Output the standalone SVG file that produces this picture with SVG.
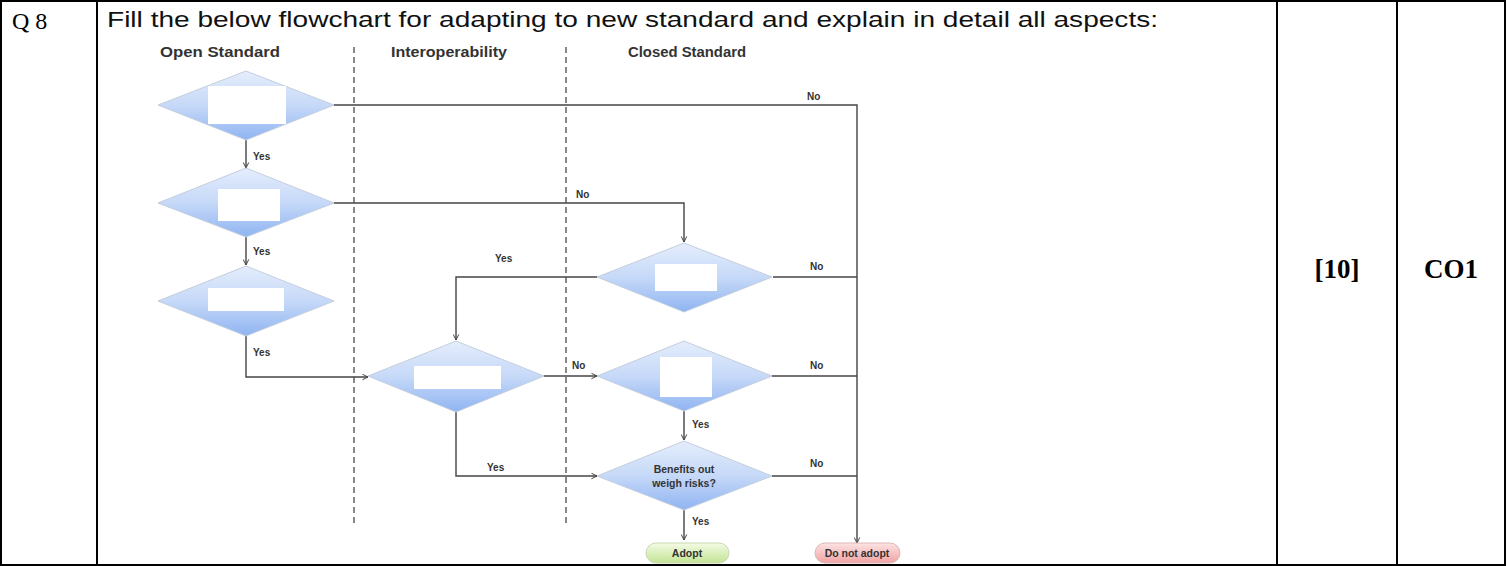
<svg xmlns="http://www.w3.org/2000/svg" width="1507" height="566" viewBox="0 0 1507 566">
<style>
.tbl{stroke:#000;stroke-width:2;fill:none}
.hd{font-family:"Liberation Sans",Arial,sans-serif;font-weight:bold;font-size:14px;fill:#333}
.lbl{font-family:"Liberation Sans",Arial,sans-serif;font-weight:bold;font-size:10px;fill:#333}
.dia{fill:url(#gd);stroke:#c3cedd;stroke-width:1}
.blank{fill:#fff}
.ln{stroke:#444;stroke-width:1.4;fill:none}
.ar{stroke:#444;stroke-width:1.4;fill:none;marker-end:url(#ah)}
.dash{stroke:#555;stroke-width:1.4;stroke-dasharray:6,4;fill:none}
.pt{font-family:"Liberation Sans",Arial,sans-serif;font-weight:bold;font-size:10.5px;fill:#333;text-anchor:middle}
.cell{font-family:"Liberation Serif","Times New Roman",serif;font-weight:bold;font-size:27px;fill:#000;text-anchor:middle}
</style>
<defs>
<linearGradient id="gd" x1="0" y1="0" x2="0" y2="1">
<stop offset="0" stop-color="#e4edfc"/>
<stop offset="0.5" stop-color="#c6d9f8"/>
<stop offset="1" stop-color="#8fb4f2"/>
</linearGradient>
<linearGradient id="gg" x1="0" y1="0" x2="0" y2="1">
<stop offset="0" stop-color="#f4fbe4"/>
<stop offset="1" stop-color="#c3e494"/>
</linearGradient>
<linearGradient id="gr" x1="0" y1="0" x2="0" y2="1">
<stop offset="0" stop-color="#fde3e3"/>
<stop offset="1" stop-color="#f0a3a3"/>
</linearGradient>
<marker id="ah" viewBox="0 0 10 10" refX="9" refY="5" markerWidth="7" markerHeight="7" orient="auto" markerUnits="userSpaceOnUse">
<path d="M1,1 L9,5 L1,9" fill="none" stroke="#444" stroke-width="1.4"/>
</marker>
</defs>

<g id="table">
<rect class="tbl" x="1" y="1" width="1504" height="564"/>
<line class="tbl" x1="97" y1="1" x2="97" y2="565"/>
<line class="tbl" x1="1277" y1="1" x2="1277" y2="565"/>
<line class="tbl" x1="1397" y1="1" x2="1397" y2="565"/>
<text x="12" y="29" font-family="'Liberation Serif','Times New Roman',serif" font-size="24" fill="#000">Q 8</text>
<text x="107" y="27" font-family="'Liberation Sans',Arial,sans-serif" font-size="22" fill="#111" textLength="1051" lengthAdjust="spacingAndGlyphs">Fill the below flowchart for adapting to new standard and explain in detail all aspects:</text>
<text class="cell" x="1337" y="278">[10]</text>
<text class="cell" x="1451" y="278">CO1</text>
</g>

<g id="lanes">
<text class="hd" x="160" y="57" textLength="120" lengthAdjust="spacingAndGlyphs">Open Standard</text>
<text class="hd" x="391" y="57" textLength="116" lengthAdjust="spacingAndGlyphs">Interoperability</text>
<text class="hd" x="628" y="57" textLength="118" lengthAdjust="spacingAndGlyphs">Closed Standard</text>
<line class="dash" x1="354" y1="47" x2="354" y2="526"/>
<line class="dash" x1="566" y1="47" x2="566" y2="526"/>
</g>

<g id="connectors">
<path class="ar" d="M334,105 H857 V543"/>
<path class="ar" d="M246,140 V168"/>
<path class="ar" d="M246,237 V265"/>
<path class="ar" d="M334,203 H684 V242"/>
<path class="ar" d="M597,277 H456 V340"/>
<path class="ln" d="M773,277 H857"/>
<path class="ar" d="M246,336 V377 H368"/>
<path class="ar" d="M544,376 H597"/>
<path class="ln" d="M772,376 H857"/>
<path class="ar" d="M684,411 V440"/>
<path class="ar" d="M456,412 V476 H597"/>
<path class="ln" d="M772,476 H857"/>
<path class="ar" d="M684,510 V540"/>
<text class="lbl" x="807" y="100">No</text>
<text class="lbl" x="253" y="160">Yes</text>
<text class="lbl" x="576" y="198">No</text>
<text class="lbl" x="253" y="255">Yes</text>
<text class="lbl" x="495" y="262">Yes</text>
<text class="lbl" x="810" y="270">No</text>
<text class="lbl" x="253" y="356">Yes</text>
<text class="lbl" x="572" y="369">No</text>
<text class="lbl" x="810" y="369">No</text>
<text class="lbl" x="692" y="428">Yes</text>
<text class="lbl" x="487" y="471">Yes</text>
<text class="lbl" x="810" y="467">No</text>
<text class="lbl" x="692" y="525">Yes</text>
</g>

<g id="d1">
<polygon class="dia" points="246,71 334,105 246,140 158,105"/>
<rect class="blank" x="208" y="86" width="78" height="38"/>
</g>
<g id="d2">
<polygon class="dia" points="246,168 334,203 246,237 158,203"/>
<rect class="blank" x="218" y="189" width="62" height="32"/>
</g>
<g id="d3">
<polygon class="dia" points="246,266 334,301 246,336 158,301"/>
<rect class="blank" x="208" y="288" width="76" height="23"/>
</g>
<g id="d4">
<polygon class="dia" points="456,341 544,376 456,412 368,376"/>
<rect class="blank" x="414" y="366" width="87" height="23"/>
</g>
<g id="c1">
<polygon class="dia" points="684,243 772,277 684,312 597,277"/>
<rect class="blank" x="655" y="264" width="62" height="27"/>
</g>
<g id="c2">
<polygon class="dia" points="684,341 772,376 684,411 597,376"/>
<rect class="blank" x="660" y="357" width="52" height="40"/>
</g>
<g id="c3">
<polygon class="dia" points="684,441 772,476 684,510 597,476"/>
<text class="pt" x="684" y="473">Benefits out</text>
<text class="pt" x="684" y="487">weigh risks?</text>
</g>
<g id="adopt">
<rect x="646" y="543" width="83" height="20" rx="10" fill="url(#gg)" stroke="#c9d8b4" stroke-width="1"/>
<text class="pt" x="687" y="557">Adopt</text>
</g>
<g id="notadopt">
<rect x="815" y="543" width="85" height="20" rx="10" fill="url(#gr)" stroke="#dcb8b8" stroke-width="1"/>
<text class="pt" x="857" y="557">Do not adopt</text>
</g>
</svg>
